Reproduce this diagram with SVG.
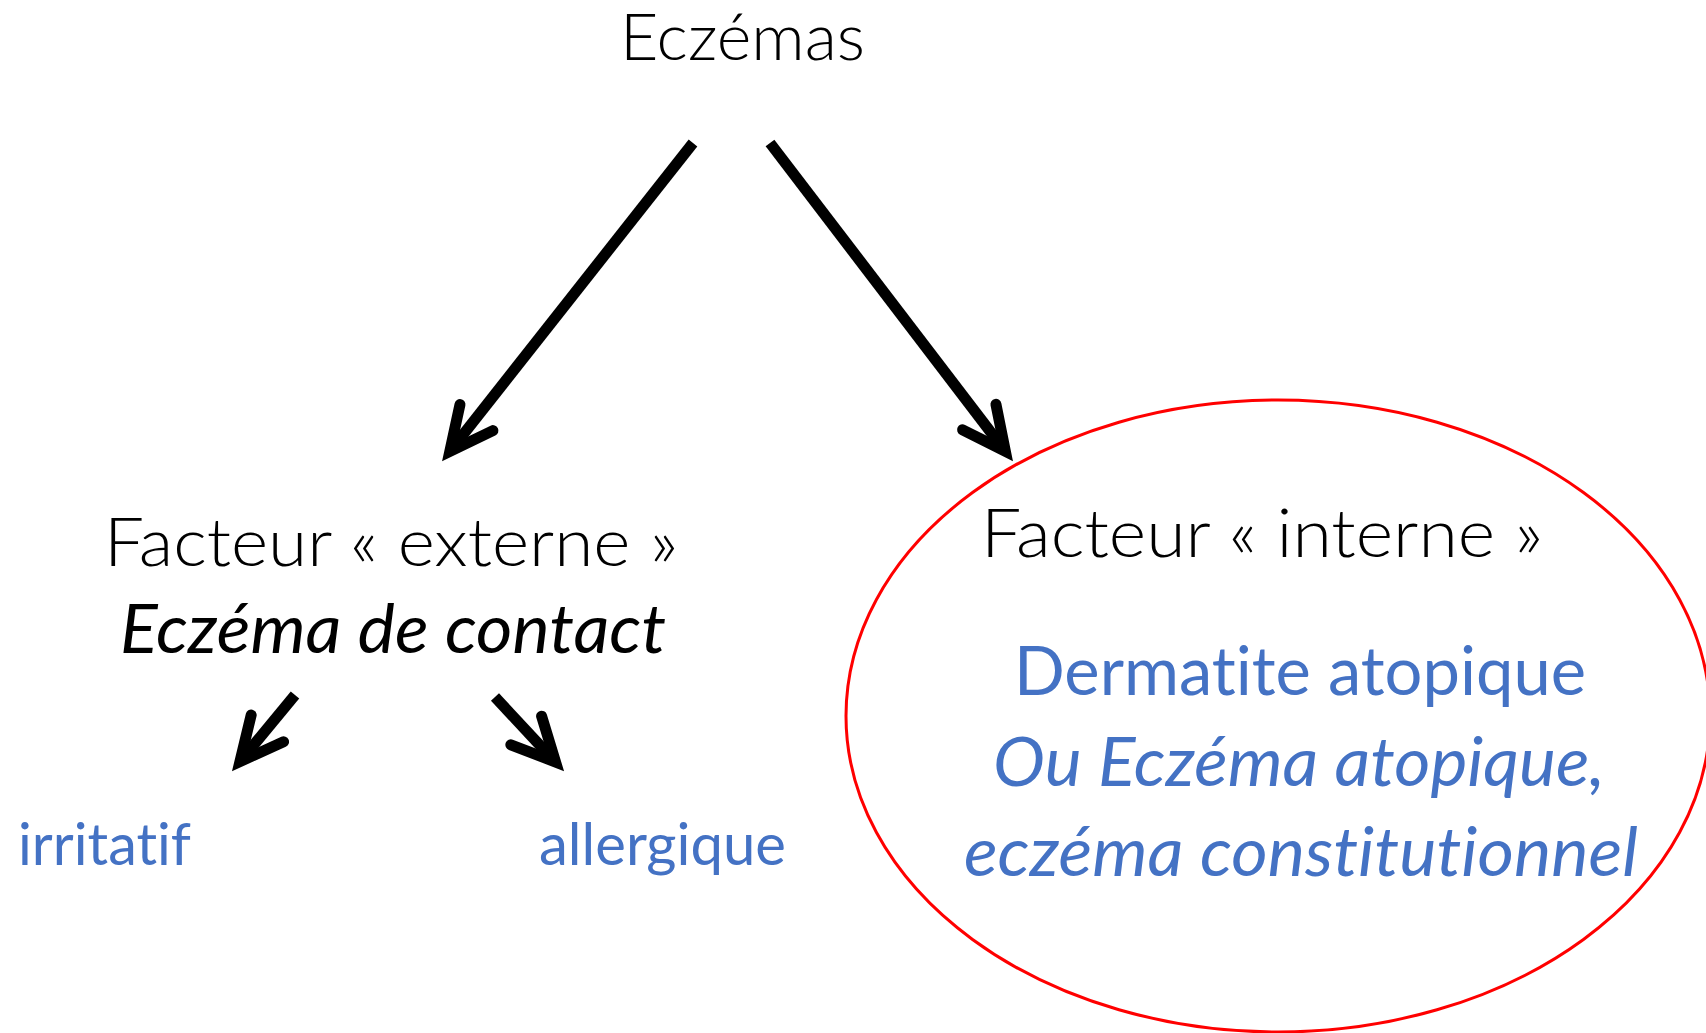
<svg xmlns="http://www.w3.org/2000/svg" width="1706" height="1033" viewBox="0 0 1706 1033">
<defs>
<style>
text { font-family: Lato, "Open Sans", "Liberation Sans", sans-serif; font-variant-ligatures: none; font-feature-settings: "liga" 0, "clig" 0, "dlig" 0; }
.light { font-weight: 300; fill: #000000; }
.blk { fill: #000000; }
.blue { fill: #4472C4; }
.it { font-style: italic; }
.conn { stroke: #000000; stroke-width: 11; fill: none; stroke-linecap: butt; }
</style>
<marker id="head" markerUnits="userSpaceOnUse" orient="auto" refX="0" refY="0" markerWidth="120" markerHeight="120" viewBox="-60 -60 120 120" overflow="visible">
<path d="M -34 -21 L 9 0 L -34 21" fill="none" stroke="#000000" stroke-width="11" stroke-linecap="round" stroke-linejoin="miter" stroke-miterlimit="10"/>
</marker>
</defs>
<rect x="0" y="0" width="1706" height="1033" fill="#ffffff"/>
<g id="connectors">
<line class="conn" x1="693" y1="143" x2="455.4" y2="444.3" marker-end="url(#head)"/>
<line class="conn" x1="770" y1="143" x2="999.9" y2="444.1" marker-end="url(#head)"/>
<line class="conn" x1="295" y1="695" x2="245.7" y2="754.6" marker-end="url(#head)"/>
<line class="conn" x1="495" y1="697" x2="549.4" y2="755.4" marker-end="url(#head)"/>
</g>
<g id="node-eczemas">
<text class="light" x="620" y="60" font-size="66" textLength="245" lengthAdjust="spacingAndGlyphs">Eczémas</text>
</g>
<g id="node-externe">
<text class="light" x="104" y="566" font-size="67" textLength="574" lengthAdjust="spacingAndGlyphs">Facteur « externe »</text>
<text class="blk it" x="120" y="653" font-size="67" textLength="546" lengthAdjust="spacingAndGlyphs">Eczéma de contact</text>
</g>
<g id="node-irritatif">
<text class="blue" x="18" y="865" font-size="58" textLength="173" lengthAdjust="spacingAndGlyphs">irritatif</text>
</g>
<g id="node-allergique">
<text class="blue" x="539" y="865" font-size="58" textLength="247" lengthAdjust="spacingAndGlyphs">allergique</text>
</g>
<g id="node-interne">
<ellipse cx="1278" cy="716" rx="432" ry="316" fill="none" stroke="#FF0000" stroke-width="3"/>
<text class="light" x="981" y="557" font-size="67" textLength="562" lengthAdjust="spacingAndGlyphs">Facteur « interne »</text>
<text class="blue" x="1014" y="695" font-size="67" textLength="572" lengthAdjust="spacingAndGlyphs">Dermatite atopique</text>
<text class="blue it" x="993" y="786" font-size="67" textLength="612" lengthAdjust="spacingAndGlyphs">Ou Eczéma atopique,</text>
<text class="blue it" x="964" y="876" font-size="67" textLength="674" lengthAdjust="spacingAndGlyphs">eczéma constitutionnel</text>
</g>
</svg>
